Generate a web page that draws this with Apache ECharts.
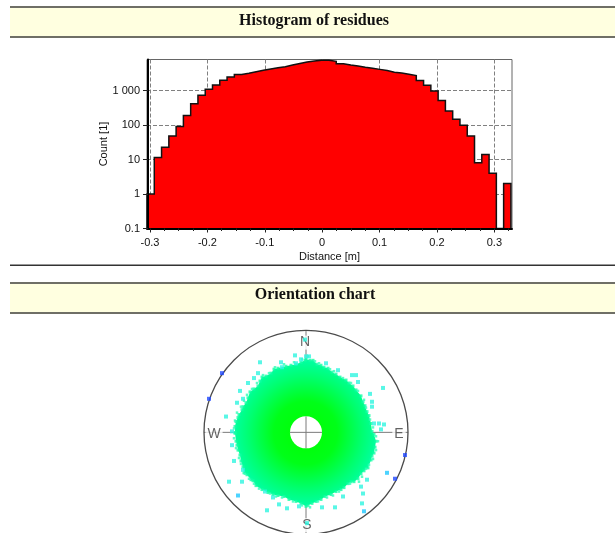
<!DOCTYPE html>
<html>
<head>
<meta charset="utf-8">
<style>html,body{margin:0;padding:0;background:#fff}#c{width:615px;height:533px}</style>
<script src="https://cdn.jsdelivr.net/npm/echarts@6/dist/echarts.min.js"></script>
</head>
<body>
<div id="c"></div>
<script>
var titles = ['Histogram of residues', 'Orientation chart'];
var binStart = -0.3052, binWidth = 0.01268;
var counts = [1, 11.5, 22.5, 48, 91, 190, 415, 725, 1080, 1440, 2000, 2450, 2900, 3150, 3500, 3850, 4200, 4600, 4900, 5500, 6100, 6700, 7150, 7500,
  7500, 7000, 6000, 5500, 5100, 4700, 4400, 4100, 3800, 3400, 3200, 2950, 2700, 1950, 1410, 960, 510, 255, 146, 98, 48, 8, 14, 4, 0, 2];
var xTicks = [-0.3, -0.2, -0.1, 0, 0.1, 0.2, 0.3];
var xMinorTicks = [-0.275, -0.25, -0.225, -0.175, -0.15, -0.125, -0.075, -0.05, -0.025, 0.025, 0.05, 0.075, 0.125, 0.15, 0.175, 0.225, 0.25, 0.275, 0.325];
var yTicks = [0.1, 1, 10, 100, 1000];
var yTickLabels = ['0.1', '1', '10', '100', '1 000'];
var compassLabels = [[-1, 93, 'N'], [93, 0, 'E'], [1, -92, 'S'], [-92, 0, 'W']];
var cloudEdge = [[0,74],[4,73],[7,73],[11,69],[15,68],[18,66],[22,65],[26,61],[30,59],[34,56],[40,53],[43,50],[47,47],[50,43],[55,37],[57,31],[59,27],[61,21],[63,17],[65,9],[66,1],
  [68,-2],[70,-9],[69,-15],[68,-21],[66,-24],[65,-28],[62,-36],[58,-39],[55,-42],[52,-47],[48,-50],[45,-50],[42,-52],[38,-56],[35,-58],[30,-60],[25,-63],[19,-65],[15,-68],[10,-70],[6,-72],[2,-74],
  [0,-75],[-5,-72],[-10,-70],[-17,-68],[-22,-65],[-28,-64],[-33,-63],[-38,-61],[-44,-58],[-50,-54],[-53,-49],[-55,-48],[-59,-43],[-62,-41],[-63,-35],[-65,-29],[-66,-23],[-68,-18],[-69,-13],[-70,-9],[-71,-1],
  [-71,0],[-71,6],[-70,11],[-68,15],[-67,18],[-64,23],[-63,26],[-60,30],[-58,35],[-56,41],[-52,44],[-48,47],[-46,52],[-44,56],[-40,57],[-35,60],[-32,64],[-28,65],[-20,67],[-15,68],[-10,69],[-5,71],[-1,73]];
var cloudSpeckle = [[2,77],[9,72],[13,70],[24,64],[28,62],[37,55],[45,50],[52,42],[58,33],[60,25],[64,13],[67,5],[70,-4],[72,-9],[70,-18],[67,-27],[63,-33],[60,-37],[56,-45],[53,-50],[44,-52],[33,-60],[27,-64],[21,-66],[12,-70],[4,-76],
  [-4,-74],[-13,-70],[-24,-66],[-30,-65],[-36,-62],[-47,-57],[-52,-52],[-57,-47],[-61,-42],[-65,-32],[-67,-26],[-70,-16],[-72,-6],[-72,4],[-71,12],[-69,20],[-65,26],[-62,32],[-59,38],[-54,44],[-49,50],[-43,58],[-37,60],[-31,66],[-22,69],[-12,71],[-4,74]];
var outliersCyan = [[-46,71],[-25,71],[-11,78],[-5,74],[0,77],[-48,60],[-52,55],[-58,50],[-66,42],[-69,30],[-63,34],[-80,16],[-74,1],[-24,66],[-10,70],[-1,94],
  [3,77],[20,70],[32,63],[46,58],[50,58],[52,51],[77,45],[64,39],[66,31],[66,26],[73,9],[78,8],[75,3],[68,9],
  [-74,-13],[-72,-29],[-63,-38],[-77,-50],[-64,-50],[-39,-79],[-27,-73],[-19,-77],[-33,-66],[-41,-60],[-7,-75],
  [57,-62],[56,-72],[29,-76],[16,-76],[37,-65],[61,-48],[55,-55],[1,-92]];
var outliersSky = [[-68,-64],[81,-41],[58,-80]];
var outliersBlue = [[-84,60],[-97,34],[99,-23],[89,-47]];
var compassRadius = 102, holeRadius = 16;
var axisFloor = 0.1, xMax = 0.3307, yMax = 7925;

var stepped = [[binStart, axisFloor]];
counts.forEach(function (c, i) {
  var v = c > 0 ? c : axisFloor;
  stepped.push([binStart + i * binWidth, v]);
  stepped.push([binStart + (i + 1) * binWidth, v]);
});
stepped.push([binStart + counts.length * binWidth, axisFloor]);

function labelFor(v) {
  for (var i = 0; i < yTicks.length; i++) { if (Math.abs(Math.log10(v) - Math.log10(yTicks[i])) < 1e-6) return yTickLabels[i]; }
  return '';
}
function banner(top, bottom) {
  var col = '#6f6f66', W = 605;
  return [
    { type: 'rect', shape: { x: 10, y: top, width: W, height: bottom - top }, style: { fill: '#ffffe0' }, silent: true },
    { type: 'rect', shape: { x: 10, y: top - 2, width: W, height: 2 }, style: { fill: col }, silent: true },
    { type: 'rect', shape: { x: 10, y: bottom, width: W, height: 2 }, style: { fill: col }, silent: true }
  ];
}
function points(data, color, z, size) {
  return { type: 'scatter', xAxisIndex: 2, yAxisIndex: 1, data: data, symbol: 'rect', symbolSize: size || 4, itemStyle: { color: color }, z: z, silent: true, animation: false };
}
var tickFont = { fontFamily: 'Liberation Sans', fontSize: 11, color: '#111' };
var compassSpan = compassRadius;
var dashed = { show: true, lineStyle: { type: 'dashed', color: '#808080' } };

var option = {
  animation: false,
  backgroundColor: '#fff',
  graphic: banner(8, 36).concat(banner(284, 312)).concat([
    { type: 'rect', shape: { x: 10, y: 264.5, width: 605, height: 1.5 }, style: { fill: '#333' }, silent: true }
  ]),
  title: [
    { text: titles[0], left: 309, top: 7.5, textAlign: 'center', textStyle: { fontFamily: 'Liberation Serif', fontWeight: 'bold', fontSize: 16, color: '#111' } },
    { text: titles[1], left: 310, top: 282, textAlign: 'center', textStyle: { fontFamily: 'Liberation Serif', fontWeight: 'bold', fontSize: 16, color: '#111' } }
  ],
  grid: [
    { left: 147, top: 59.5, width: 365, height: 169, show: true, backgroundColor: '#fff', borderColor: '#666', borderWidth: 1 },
    { left: 306 - compassRadius, top: 433.7 - compassRadius, width: 2 * compassRadius, height: 2 * compassRadius }
  ],
  xAxis: [
    { type: 'value', gridIndex: 0, min: binStart, max: xMax, position: 'bottom', z: 5,
      name: 'Distance [m]', nameLocation: 'middle', nameGap: 23, nameMoveOverlap: false, nameTextStyle: tickFont,
      axisLine: { onZero: false, lineStyle: { color: '#000', width: 2 } },
      axisTick: { customValues: xTicks, length: 4, lineStyle: { color: '#222' } },
      axisLabel: { customValues: xTicks, margin: 9, fontFamily: 'Liberation Sans', fontSize: 11, color: '#111' },
      splitLine: { show: false } },
    { type: 'value', gridIndex: 0, min: binStart, max: xMax, position: 'bottom', z: 5,
      axisLine: { show: false }, axisLabel: { show: false }, splitLine: { show: false },
      axisTick: { customValues: xMinorTicks, length: 2.5, lineStyle: { color: '#222' } } },
    { type: 'value', gridIndex: 1, min: -compassSpan, max: compassSpan, show: false },
    { type: 'value', gridIndex: 0, min: binStart, max: xMax, position: 'bottom', z: 0,
      axisLine: { show: false, onZero: false }, axisLabel: { show: false },
      axisTick: { show: false, customValues: xTicks }, splitLine: dashed }
  ],
  yAxis: [
    { type: 'log', gridIndex: 0, logBase: 10, min: axisFloor, max: yMax, offset: -1, z: 5,
      name: 'Count [1]', nameLocation: 'middle', nameGap: 39, nameMoveOverlap: false, nameTextStyle: tickFont,
      axisLine: { show: true, onZero: false, lineStyle: { color: '#000', width: 2 } },
      axisTick: { length: 5, lineStyle: { color: '#222' }, customValues: yTicks },
      axisLabel: { customValues: yTicks, margin: 8, formatter: labelFor, fontFamily: 'Liberation Sans', fontSize: 11, color: '#111' },
      splitLine: { show: false }, minorTick: { show: false } },
    { type: 'value', gridIndex: 1, min: -compassSpan, max: compassSpan, show: false },
    { type: 'log', gridIndex: 0, logBase: 10, min: axisFloor, max: yMax, z: 0,
      axisLine: { show: false, onZero: false }, axisLabel: { show: false },
      axisTick: { show: false, customValues: yTicks }, splitLine: dashed, minorTick: { show: false } }
  ],
  series: [
    { type: 'line', xAxisIndex: 0, yAxisIndex: 0, data: stepped, showSymbol: false, symbol: 'none', silent: true, z: 3,
      lineStyle: { color: '#111', width: 1.5, join: 'miter' }, itemStyle: { color: '#111' },
      areaStyle: { color: '#ff0000', opacity: 1, origin: 'start' } },
    { type: 'custom', xAxisIndex: 2, yAxisIndex: 1, data: [[0, 0]], silent: true, z: 2, clip: false,
      renderItem: function (params, api) {
        var c = api.coord([0, 0]);
        var R = api.size([compassRadius, 0])[0], h = api.size([holeRadius, 0])[0];
        var line = '#7a7a7a';
        return { type: 'group', children: [
          { type: 'line', shape: { x1: c[0] - R, y1: c[1], x2: c[0] + R, y2: c[1] }, style: { stroke: line, lineWidth: 1 } },
          { type: 'line', shape: { x1: c[0], y1: c[1] - R, x2: c[0], y2: c[1] + R }, style: { stroke: line, lineWidth: 1 } },
          { type: 'circle', shape: { cx: c[0], cy: c[1], r: R }, style: { fill: 'none', stroke: '#4a4a4a', lineWidth: 1.3 } },
          { type: 'polygon', shape: { points: cloudEdge.map(function (p) { return api.coord(p); }) },
            style: { fill: { type: 'radial', x: 0.5, y: 0.5, r: 0.5, colorStops: [
              { offset: 0, color: '#00ff00' }, { offset: 0.45, color: '#00ff18' }, { offset: 0.8, color: '#00ff70' }, { offset: 1, color: '#00ff9c' }] } } },
          { type: 'circle', shape: { cx: c[0], cy: c[1], r: h }, style: { fill: '#fff' } },
          { type: 'line', shape: { x1: c[0] - h, y1: c[1], x2: c[0] + h, y2: c[1] }, style: { stroke: line, lineWidth: 1 } },
          { type: 'line', shape: { x1: c[0], y1: c[1] - h, x2: c[0], y2: c[1] + h }, style: { stroke: line, lineWidth: 1 } }
        ] };
      } },
    points(cloudEdge, '#10ffa4', 3, 3),
    points(cloudSpeckle, '#30ffb8', 3, 2.5),
    { type: 'scatter', xAxisIndex: 2, yAxisIndex: 1, data: compassLabels, symbolSize: 1, itemStyle: { color: 'rgba(0,0,0,0)' }, silent: true, z: 4,
      label: { show: true, position: 'inside', offset: [0, 2], formatter: function (p) { return p.value[2]; }, fontFamily: 'Liberation Sans', fontSize: 14, color: '#3c3c3c', backgroundColor: '#fff', padding: [0, 2] } },
    points(outliersCyan, '#30f5e0', 5),
    points(outliersSky, '#20c8ff', 5),
    points(outliersBlue, '#2048ff', 5)
  ]
};
echarts.init(document.getElementById('c'), null, { renderer: 'canvas' }).setOption(option);
</script>
</body>
</html>
